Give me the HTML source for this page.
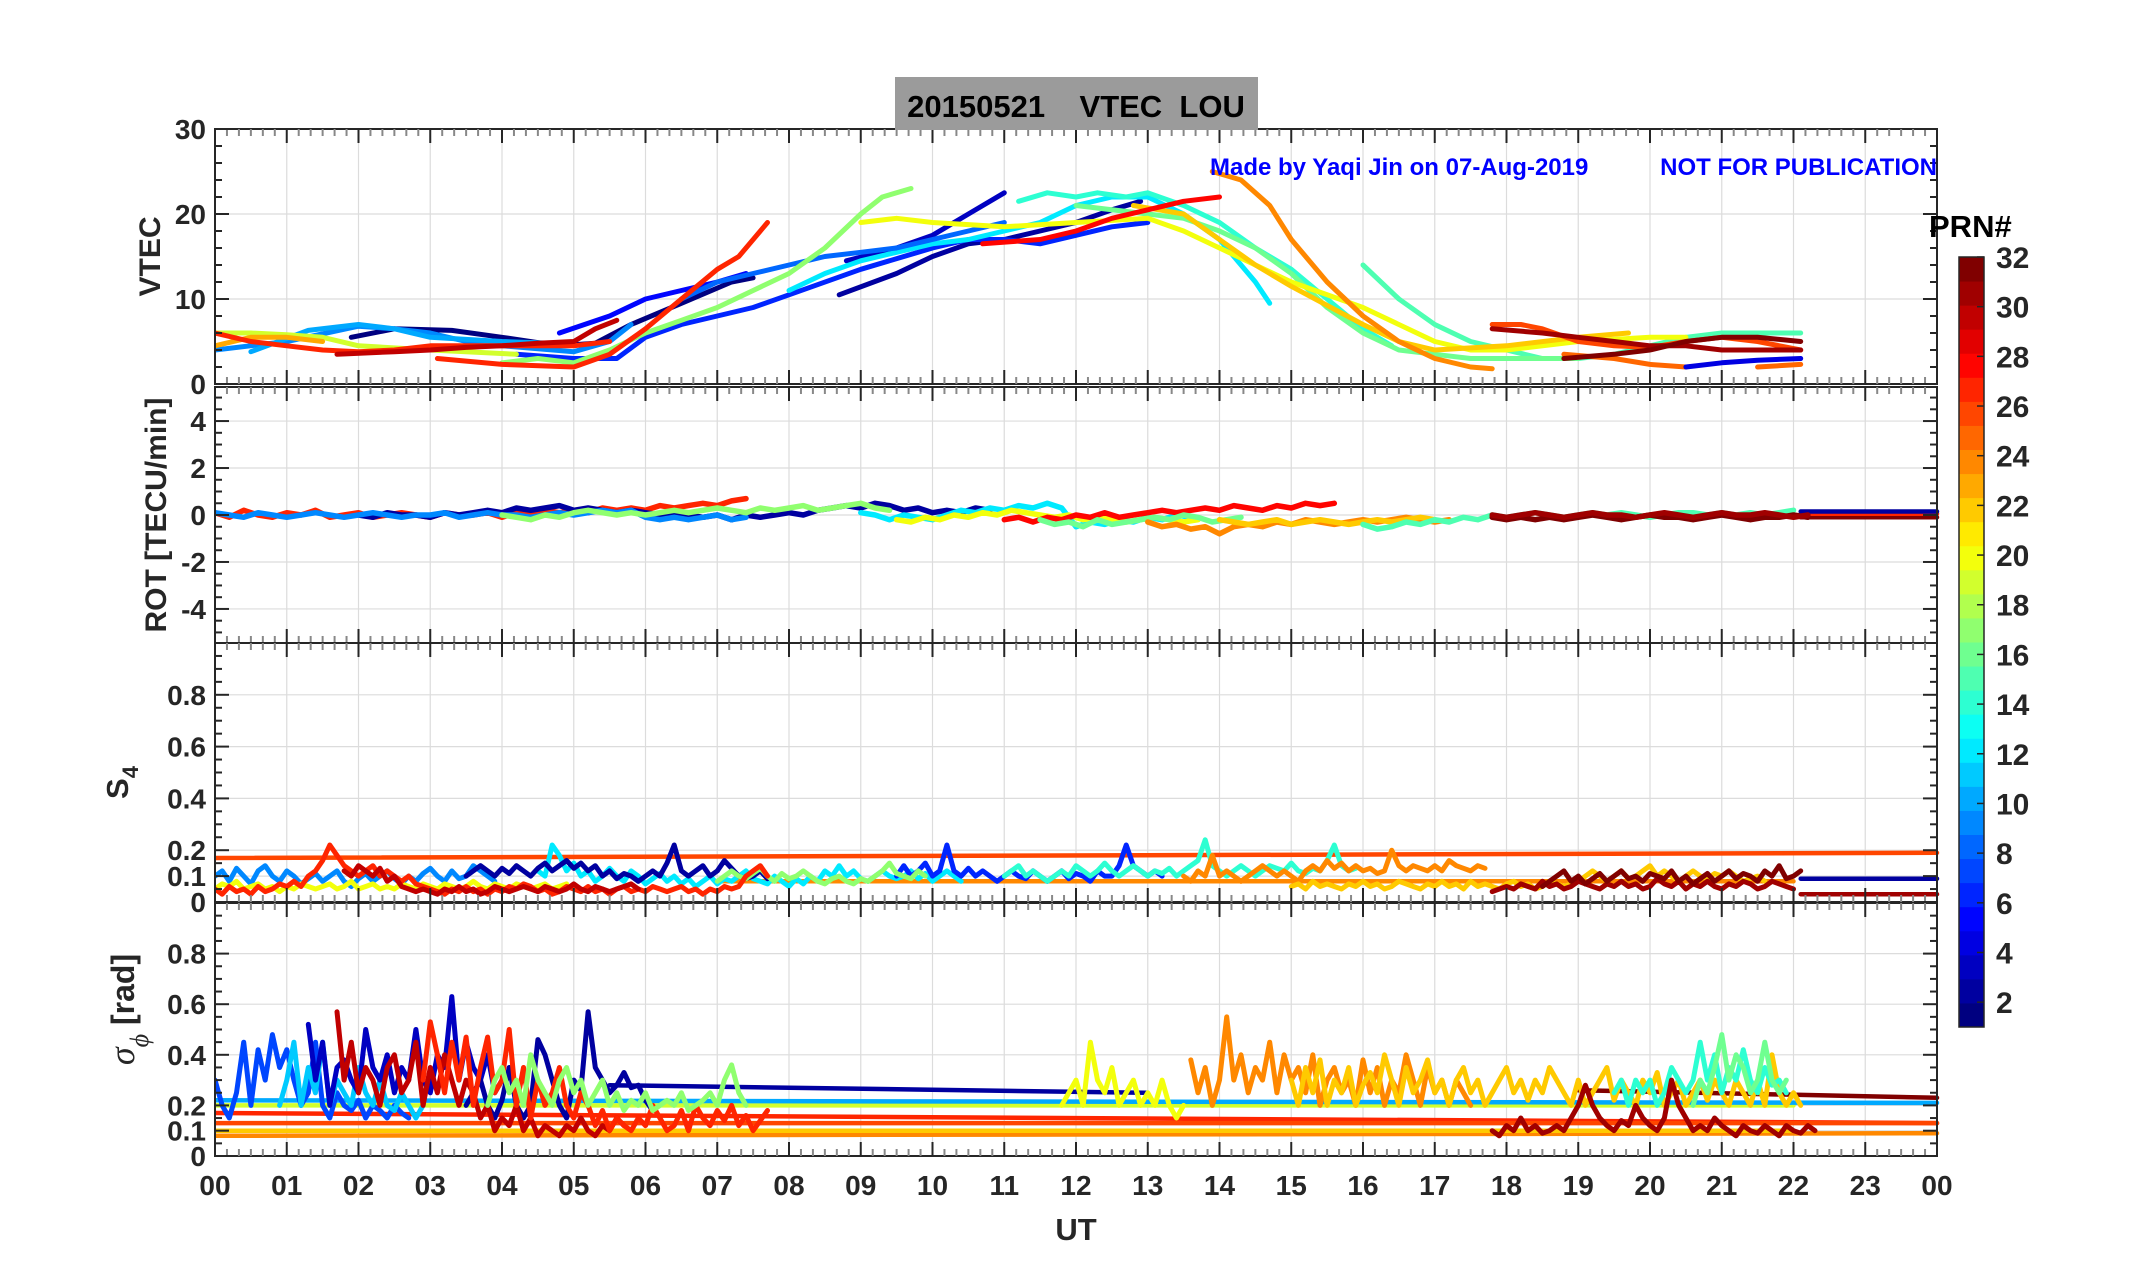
<!DOCTYPE html>
<html><head><meta charset="utf-8">
<style>
html,body{margin:0;padding:0;background:#fff;}
svg{display:block;font-family:"Liberation Sans",sans-serif;font-weight:bold;}
</style></head>
<body>
<svg id="fig" width="2153" height="1286" viewBox="0 0 2153 1286">
<rect x="0" y="0" width="2153" height="1286" fill="#fff"/>
<g id="panels"></g>
<rect x="895" y="77" width="363" height="53" fill="#9b9b9b"/>
<text x="1076" y="117" font-size="31" text-anchor="middle" fill="#000" xml:space="preserve">20150521    VTEC  LOU</text>
<text x="1210" y="175" font-size="24" fill="#0000ff">Made by Yaqi Jin on 07-Aug-2019</text>
<text x="1937" y="175" font-size="24" fill="#0000ff" text-anchor="end">NOT FOR PUBLICATION</text>
<text x="1076" y="1240" font-size="31" text-anchor="middle" fill="#262626">UT</text>
<g id="cbar"></g>
</svg>
<script>
// ---------- data ----------
const hourTicks = ["00","01","02","03","04","05","06","07","08","09","10","11","12","13","14","15","16","17","18","19","20","21","22","23","00"];
const vtecTicks = [0,10,20,30];
const rotTicks = [-4,-2,0,2,4];
const s4Ticks = [0,0.1,0.2,0.4,0.6,0.8];
const sigTicks = [0,0.1,0.2,0.4,0.6,0.8];
const prnTicks = [2,4,6,8,10,12,14,16,18,20,22,24,26,28,30,32];

const vtecPrn = [1,5,3,2,6,9,10,12,8,15,14,17,16,19,20,22,24,25,25,26,23,27,27,28,30,31,32,4];
const vtecHours = [
 [1.9,2.5,3.3,4,4.8,5.3,5.8,6.5,7.2,7.5],
 [4.8,5.5,6,6.5,7,7.4],
 [8.8,9.5,10,10.5,11],
 [8.7,9.5,10,10.5,11,11.5,12,12.5,12.9],
 [4.2,5,5.6,6,6.5,7,7.5,8,9,10,10.5,11,11.5,12,12.5,13],
 [0,1,2,2.5,3,3.5,4,5,5.5,5.8],
 [0.5,1.3,2,2.5,3,4,4.7],
 [8,8.5,9,9.5,10,10.5,11,11.5,12,12.5,13,13.5,14,14.5,14.7],
 [6.5,7,7.5,8,8.5,9,9.5,10,10.5,11],
 [16,16.5,17,17.5,18,18.5,19,19.5,20,20.5,21,21.5,22.1],
 [11.2,11.6,12,12.3,12.7,13,13.5,14,14.5,15,15.5,16,16.4],
 [4,4.5,5,5.5,6,6.5,7,7.5,8,8.5,9,9.3,9.7],
 [12,13,13.5,14,14.5,15,15.5,16,16.5,17,17.5,18,18.5,19],
 [0,0.5,1,1.5,2,3,4.2],
 [9,9.5,10,11,12,13,13.5,14,15,16,17,17.5,18,19,20,20.5],
 [12.8,13.5,14,14.5,15,16,16.5,17,18,19,19.7],
 [13.9,14.3,14.7,15,15.5,16,16.5,17,17.5,17.8],
 [18.8,19.5,20,20.5],
 [21.5,22.1],
 [17.8,18.2,18.5,19,19.5,20,20.5,21,21.5,22.1],
 [0,0.5,1,1.5],
 [0,0.5,1,1.5,2,2.5,3,3.5,4,5,5.5],
 [3.1,4,5,5.5,6,6.5,7,7.3,7.7],
 [10.7,11.5,12,12.5,13,13.5,14],
 [1.7,2.5,3,3.5,4,4.5,5,5.3,5.6],
 [17.8,18.5,19,19.5,20,20.5,21,22.1],
 [18.8,19.5,20,20.5,21,21.5,22.1],
 [20.5,21,21.5,22.1]
];
const vtecValues = [
 [5.5,6.5,6.3,5.5,4.5,4.8,7,9.5,12,12.5],
 [6,8,10,11,12,13],
 [14.5,16,17.5,20,22.5],
 [10.5,13,15,16.5,17,18,19,20.5,21.5],
 [3.5,3,3,5.5,7,8,9,10.5,13.5,16,17,17,16.5,17.5,18.5,19],
 [4,5,6.8,6.5,6,5,4.5,3.8,5,7],
 [3.8,6.3,7,6.5,5.5,5,4.8],
 [11,13,14.5,15.5,16.5,17,18,19,21,22,22,20,17,12,9.5],
 [10,12,13,14,15,15.5,16,17,18,19],
 [14,10,7,5,4,3,3,3.5,4.5,5.5,6,6,6],
 [21.5,22.5,22,22.5,22,22.5,21,19,16,13.5,10,6.5,4.5],
 [2.5,3,2.5,4,6,7.5,9,11,13,16,20,22,23],
 [21,20,19.5,18,16,13,9,6,4,3.5,3,3,3,3],
 [6,6,5.8,5.5,4.5,4,3.5],
 [19,19.5,19,18.5,19,19.5,18,16,12,9,5,4,4,5,5.5,5.5],
 [21,20,17,14,11.5,7,5,4,4.5,5.5,6],
 [25,24,21,17,12,8,5,3,2,1.8],
 [3.5,3,2.3,2],
 [2,2.3],
 [7,7,6.5,5,4.5,4.3,5,5.5,5,4],
 [4.5,5.5,5.5,5],
 [6,5,4.5,4,3.8,4,4.5,4.5,4.5,4.5,5],
 [3,2.3,2,3.5,6.5,10,13.5,15,19],
 [16.5,17,18,19.5,20.5,21.5,22],
 [3.5,3.8,4,4.3,4.5,4.8,5,6.5,7.5],
 [6.5,6,5.5,5,4.5,4.5,4,4],
 [3,3.5,4,5,5.5,5.5,5],
 [2,2.5,2.8,3]
];

const rotPrn = [27,2,9,17,12,20,28,16,24,22,15,32,31];
const rotStart = [0,2,0,4,9,9.5,11,11.5,13,14,16,17.8,17.8];
const rotValues = [
 [0.1,-0.1,0.2,0,-0.1,0.1,0,0.2,-0.1,0,0.1,-0.1,0,0.1,0,-0.1,0.1,0,0,0.1,-0.1,0.1,0,0.2,0.1,0.2,0.1,0.3,0.2,0.3,0.2,0.4,0.3,0.4,0.5,0.4,0.6,0.7],
 [0,-0.1,0.1,0,0,-0.1,0.1,0,0.1,0.2,0.1,0.3,0.2,0.3,0.4,0.2,0.3,0.2,0.1,0.2,0.1,0,0.1,0,-0.1,0,-0.2,0,-0.1,0,0.1,0,0.2,0.3,0.4,0.3,0.5,0.4,0.2,0.3,0.1,0.2,0.1,0.3,0.2],
 [0.1,0,-0.1,0.1,0,-0.1,0,0.1,0,-0.1,0,0.1,0,-0.1,0,0,0.1,-0.1,0,0.1,0,0,-0.1,0,0.1,0,0.1,0.2,0.1,0.2,-0.1,-0.2,-0.1,-0.2,-0.1,0,-0.2,-0.1],
 [0,-0.1,-0.2,0,-0.1,0.1,0.2,0.1,0,0.1,0,0.1,0.2,0.1,0.2,0.3,0.2,0.1,0.3,0.2,0.3,0.4,0.2,0.3,0.4,0.5,0.3,0.2],
 [0.1,0,-0.2,0,-0.1,-0.2,0,0.2,0.1,0.3,0.2,0.4,0.3,0.5,0.3,-0.5,-0.3,-0.4,-0.2,-0.3,-0.1,-0.2,0,-0.1],
 [-0.2,-0.3,-0.1,-0.2,0,-0.1,0.1,0,0.2,0.1,0,-0.1,0,-0.2,-0.1,-0.2,-0.3,-0.2,-0.1,-0.2,-0.3,-0.2],
 [-0.2,-0.1,-0.3,-0.1,-0.2,0,-0.1,0.1,-0.1,0,0.1,0.2,0.1,0.2,0.3,0.2,0.4,0.3,0.2,0.4,0.3,0.5,0.4,0.5],
 [-0.2,-0.4,-0.3,-0.5,-0.2,-0.4,-0.3,-0.2,-0.1,-0.2,0,-0.1,-0.3,-0.2,-0.1],
 [-0.3,-0.5,-0.4,-0.6,-0.5,-0.8,-0.5,-0.4,-0.5,-0.3,-0.4,-0.2,-0.3,-0.4,-0.3,-0.2,-0.3,-0.2,-0.1,-0.2,-0.3,-0.2],
 [-0.2,-0.3,-0.4,-0.3,-0.2,-0.4,-0.3,-0.2,-0.3,-0.4,-0.3,-0.2,-0.3,-0.2,-0.1,-0.2],
 [-0.4,-0.6,-0.5,-0.3,-0.4,-0.2,-0.3,-0.1,-0.2,0,-0.1,0,0.1,0,-0.1,0,0.1,0,0.1,0,-0.1,0,0.1,0.1,0,0.1,0,0.1,0,0.1,0.2],
 [-0.1,-0.2,-0.1,-0.2,-0.1,-0.2,-0.1,0,-0.1,-0.2,-0.1,0,-0.1,-0.1,-0.2,-0.1,0,-0.1,-0.2,-0.1,-0.1,0,-0.1],
 [0,-0.1,0,0.1,0,-0.1,0,0.1,0,0,-0.1,0,0.1,0,-0.1,0,0.1,0,0,0.1,0,-0.1,0]
];
const rotLinePrn = [32,27,2];
const rotLineFrom = [[22.1,-0.1],[22.1,0.05],[22.1,0.15]];
const rotLineTo = [[24,-0.1],[24,0.05],[24,0.15]];

const s4Prn = [9,12,2,6,20,17,14,24,22,27,30,31,32];
const s4Start = [0,4.5,3.5,9.5,0,7,11,13.5,15,0,1.8,17.8,18.5];
const s4Values = [
 [0.1,0.12,0.08,0.13,0.1,0.07,0.12,0.14,0.1,0.08,0.12,0.1,0.07,0.09,0.11,0.08,0.1,0.12,0.08,0.06,0.09,0.11,0.08,0.1,0.12,0.09,0.07,0.1,0.08,0.11,0.13,0.1,0.08,0.12,0.09,0.1,0.14,0.12,0.1,0.08],
 [0.12,0.1,0.22,0.18,0.12,0.15,0.1,0.12,0.08,0.1,0.13,0.1,0.08,0.12,0.1,0.07,0.09,0.11,0.08,0.1,0.07,0.09,0.06,0.08,0.1,0.07,0.09,0.08,0.1,0.12,0.09,0.08,0.07,0.1,0.08,0.06,0.09,0.07,0.1,0.08,0.12,0.1,0.14,0.1,0.12,0.09,0.08,0.1,0.12,0.1,0.09,0.1,0.12,0.09,0.11,0.08,0.1,0.12,0.1,0.08],
 [0.1,0.12,0.14,0.12,0.1,0.13,0.11,0.14,0.12,0.1,0.13,0.15,0.12,0.14,0.16,0.13,0.15,0.12,0.14,0.1,0.12,0.09,0.11,0.1,0.08,0.1,0.12,0.1,0.15,0.22,0.12,0.1,0.12,0.14,0.1,0.12,0.16,0.13,0.1,0.09,0.1,0.12,0.09],
 [0.1,0.14,0.1,0.12,0.15,0.1,0.12,0.22,0.12,0.1,0.13,0.1,0.12,0.1,0.08,0.1,0.12,0.1,0.09,0.12,0.1,0.08,0.1,0.12,0.09,0.11,0.1,0.08,0.12,0.1,0.1,0.14,0.22,0.14,0.12,0.1,0.12,0.1],
 [0.05,0.07,0.06,0.08,0.05,0.06,0.07,0.05,0.06,0.04,0.06,0.05,0.07,0.06,0.05,0.06,0.07,0.05,0.06,0.08,0.05,0.06,0.07,0.05,0.06,0.05,0.07,0.06,0.05,0.07,0.06,0.05,0.07,0.06,0.05,0.06,0.08,0.06,0.05,0.07,0.06,0.05,0.07,0.06,0.05,0.06,0.07,0.05,0.06,0.07],
 [0.08,0.1,0.12,0.1,0.09,0.11,0.13,0.1,0.08,0.11,0.09,0.1,0.12,0.1,0.08,0.07,0.09,0.1,0.08,0.07,0.09,0.08,0.1,0.12,0.15,0.11,0.1,0.09,0.12,0.1],
 [0.1,0.12,0.14,0.1,0.12,0.1,0.08,0.1,0.12,0.1,0.14,0.12,0.1,0.12,0.15,0.12,0.1,0.12,0.14,0.12,0.1,0.12,0.11,0.13,0.1,0.12,0.14,0.16,0.24,0.14,0.12,0.1,0.12,0.14,0.12,0.1,0.12,0.14,0.13,0.12,0.15,0.12,0.11,0.13,0.12,0.16,0.22,0.14,0.12,0.13],
 [0.1,0.08,0.12,0.1,0.18,0.1,0.12,0.1,0.08,0.1,0.12,0.14,0.12,0.1,0.12,0.1,0.08,0.12,0.14,0.12,0.16,0.13,0.15,0.12,0.14,0.12,0.13,0.11,0.12,0.2,0.14,0.12,0.14,0.13,0.12,0.14,0.12,0.16,0.14,0.13,0.12,0.14,0.13],
 [0.06,0.07,0.05,0.08,0.06,0.07,0.06,0.05,0.07,0.06,0.08,0.06,0.07,0.05,0.06,0.08,0.07,0.06,0.05,0.07,0.06,0.08,0.06,0.07,0.05,0.08,0.06,0.07,0.06,0.05,0.07,0.08,0.06,0.07,0.05,0.06,0.08,0.07,0.06,0.07,0.08,0.1,0.12,0.1,0.08,0.1,0.12,0.09,0.1,0.12,0.14,0.1,0.12,0.1,0.08,0.1,0.12,0.1,0.09,0.11,0.1,0.12,0.1,0.08,0.09,0.1,0.08],
 [0.05,0.03,0.06,0.04,0.05,0.03,0.06,0.04,0.05,0.07,0.06,0.08,0.06,0.1,0.12,0.16,0.22,0.18,0.14,0.12,0.1,0.12,0.14,0.1,0.12,0.1,0.08,0.1,0.07,0.06,0.05,0.04,0.03,0.05,0.04,0.06,0.04,0.05,0.03,0.05,0.04,0.06,0.05,0.07,0.06,0.04,0.05,0.03,0.04,0.06,0.05,0.04,0.06,0.04,0.05,0.03,0.05,0.06,0.04,0.05,0.04,0.06,0.05,0.04,0.05,0.06,0.04,0.05,0.03,0.05,0.04,0.06,0.05,0.06,0.1,0.12,0.14,0.1],
 [0.12,0.1,0.14,0.12,0.1,0.13,0.08,0.1,0.06,0.05,0.04,0.05,0.04,0.03,0.05,0.04,0.06,0.04,0.05,0.03,0.04,0.06,0.05,0.04,0.05,0.06,0.05,0.04,0.06,0.05,0.04,0.05,0.07,0.05,0.04,0.06,0.05,0.04,0.05,0.06,0.07,0.05],
 [0.04,0.05,0.06,0.05,0.07,0.06,0.05,0.08,0.06,0.07,0.05,0.06,0.08,0.07,0.06,0.05,0.07,0.06,0.08,0.06,0.07,0.05,0.06,0.09,0.07,0.06,0.08,0.05,0.07,0.06,0.08,0.06,0.05,0.07,0.06,0.08,0.07,0.05,0.06,0.08,0.07,0.06,0.05],
 [0.06,0.08,0.1,0.12,0.08,0.1,0.07,0.09,0.11,0.08,0.1,0.12,0.09,0.1,0.08,0.11,0.1,0.09,0.12,0.08,0.1,0.07,0.09,0.11,0.08,0.1,0.12,0.09,0.11,0.1,0.08,0.12,0.1,0.14,0.09,0.1,0.12]
];
const s4LinePrn = [26,31,2,24];
const s4LineFrom = [[0,0.17],[22.1,0.03],[22.1,0.09],[7,0.08]];
const s4LineTo = [[24,0.19],[24,0.03],[24,0.09],[22,0.08]];

const sigPrn = [7,11,3,2,30,27,17,20,24,22,14,31,16];
const sigStart = [0,0.9,1.3,3.5,1.7,2.9,3.8,11.8,13.6,15,19.5,17.8,20.6];
const sigValues = [
 [0.3,0.2,0.15,0.25,0.45,0.2,0.42,0.3,0.48,0.35,0.42,0.3,0.2,0.25,0.45,0.2,0.15,0.25,0.2,0.18,0.22,0.15,0.2,0.18,0.15,0.2,0.17,0.15],
 [0.2,0.3,0.45,0.2,0.35,0.25,0.45,0.2,0.3,0.25,0.2,0.35,0.25,0.2,0.3,0.2,0.18,0.25,0.2,0.15,0.2],
 [0.52,0.3,0.45,0.2,0.35,0.38,0.3,0.25,0.5,0.35,0.3,0.4,0.25,0.35,0.3,0.5,0.3,0.25,0.4,0.35,0.63,0.3,0.45,0.35,0.3,0.4,0.25,0.3],
 [0.2,0.25,0.3,0.2,0.15,0.22,0.35,0.2,0.15,0.2,0.46,0.4,0.3,0.2,0.15,0.3,0.26,0.57,0.35,0.3,0.25,0.28,0.33,0.27,0.28,0.22,0.18],
 [0.57,0.3,0.45,0.25,0.35,0.3,0.2,0.35,0.4,0.25,0.3,0.45,0.2,0.35,0.25,0.4,0.3,0.2,0.3,0.25,0.15,0.2,0.1,0.15,0.12,0.2,0.1,0.15,0.08,0.12,0.1,0.08,0.12,0.1,0.15,0.1,0.08,0.12,0.1,0.15,0.12],
 [0.3,0.53,0.4,0.25,0.45,0.3,0.47,0.2,0.35,0.47,0.25,0.3,0.5,0.2,0.35,0.15,0.3,0.2,0.25,0.35,0.2,0.15,0.25,0.2,0.12,0.18,0.1,0.15,0.12,0.1,0.15,0.12,0.2,0.15,0.1,0.12,0.18,0.1,0.2,0.15,0.12,0.18,0.14,0.2,0.12,0.16,0.1,0.14,0.18],
 [0.2,0.3,0.35,0.25,0.3,0.2,0.4,0.3,0.25,0.2,0.3,0.35,0.25,0.3,0.2,0.25,0.3,0.2,0.25,0.18,0.22,0.2,0.25,0.18,0.2,0.22,0.2,0.25,0.18,0.2,0.22,0.25,0.2,0.3,0.36,0.25,0.2],
 [0.2,0.25,0.3,0.2,0.45,0.3,0.25,0.35,0.2,0.25,0.3,0.2,0.25,0.2,0.3,0.2,0.15,0.2],
 [0.38,0.25,0.35,0.2,0.3,0.55,0.3,0.4,0.25,0.35,0.3,0.45,0.25,0.4,0.3,0.35,0.25,0.4,0.2,0.3,0.35,0.25,0.3,0.2,0.38,0.25,0.35,0.2,0.3,0.25,0.4,0.3,0.2,0.35,0.25,0.3,0.2,0.3,0.25,0.2],
 [0.3,0.2,0.35,0.25,0.38,0.2,0.3,0.25,0.35,0.2,0.28,0.33,0.25,0.4,0.3,0.2,0.35,0.25,0.3,0.38,0.25,0.3,0.2,0.3,0.35,0.25,0.3,0.2,0.25,0.3,0.35,0.25,0.3,0.22,0.3,0.25,0.35,0.3,0.25,0.2,0.3,0.2,0.25,0.3,0.35,0.22,0.3,0.25,0.2,0.3,0.25,0.33,0.2,0.25,0.3,0.2,0.25,0.3,0.22,0.3,0.25,0.2,0.3,0.25,0.2,0.3,0.2,0.4,0.25,0.2,0.25,0.2],
 [0.25,0.3,0.2,0.3,0.25,0.3,0.2,0.25,0.35,0.3,0.25,0.3,0.45,0.3,0.4,0.25,0.35,0.3,0.42,0.3,0.25,0.35,0.28,0.3,0.25],
 [0.1,0.08,0.12,0.1,0.15,0.1,0.12,0.09,0.1,0.12,0.1,0.15,0.2,0.28,0.2,0.15,0.12,0.1,0.14,0.12,0.2,0.15,0.12,0.1,0.15,0.3,0.2,0.15,0.1,0.12,0.1,0.15,0.12,0.1,0.08,0.12,0.1,0.09,0.12,0.1,0.08,0.12,0.1,0.09,0.12,0.1],
 [0.2,0.3,0.25,0.35,0.48,0.3,0.4,0.35,0.25,0.3,0.45,0.3,0.25,0.3]
];
const sigLinePrn = [19,27,26,24,2,32,10,22];
const sigLineFrom = [[0,0.2],[0,0.17],[0,0.13],[0,0.08],[5.5,0.28],[19,0.26],[0,0.22],[0,0.1]];
const sigLineTo = [[22,0.2],[24,0.13],[24,0.13],[24,0.09],[13,0.25],[24,0.23],[24,0.21],[22,0.1]];

// ---------- layout ----------
const X0 = 215, X1 = 1937;
const panels = [
 {name:"vtec", top:129, bot:384, min:0, max:30, ticks:vtecTicks, minor:2, label:"VTEC", lx:160},
 {name:"rot", top:387, bot:643, min:-5.45, max:5.45, ticks:rotTicks, minor:0.5, label:"ROT [TECU/min]", lx:166},
 {name:"s4", top:643, bot:902, min:0, max:1, ticks:s4Ticks, minor:0.05, label:"S4", lx:128},
 {name:"sigma", top:903, bot:1156, min:0, max:1, ticks:sigTicks, minor:0.05, label:"sigma", lx:134}
];
const NS = "http://www.w3.org/2000/svg";
const root = document.getElementById("panels");
function mk(tag, attrs, parent){ const e = document.createElementNS(NS, tag); for (const k in attrs) e.setAttribute(k, attrs[k]); (parent||root).appendChild(e); return e; }
function xs(h){ return X0 + (h/24)*(X1-X0); }
function jet(p){ const t=(p-1)/31; const c=v=>Math.round(255*Math.max(0,Math.min(1,v)));
  return "rgb("+c(1.5-Math.abs(4*t-3))+","+c(1.5-Math.abs(4*t-2))+","+c(1.5-Math.abs(4*t-1))+")"; }

panels.forEach(P => {
  const ys = v => P.bot - (v-P.min)/(P.max-P.min)*(P.bot-P.top);
  P.ys = ys;
  const g = mk("g", {});
  
  
  P.g = g;
  for (let h=1; h<24; h++){
    const l = mk("line", {x1:xs(h), x2:xs(h), y1:P.top, y2:P.bot, stroke:"#dcdcdc", "stroke-width":1.2}, g);
    
    
  }
  P.ticks.forEach(v => {
    if (v===P.min || v===P.max) return;
    const l = mk("line", {x1:X0, x2:X1, y1:ys(v), y2:ys(v), stroke:"#dcdcdc", "stroke-width":1.2}, g);
    
    
  });
  P.marks = mk("g", {"clip-path":"url(#clip-"+P.name+")"}, g);
  const cp = mk("clipPath", {id:"clip-"+P.name}, g);
  mk("rect", {x:X0, y:P.top, width:X1-X0+4, height:P.bot-P.top}, cp);
});

function poly(P, pts, prn, w, name){
  const d = pts.map(p => xs(p[0]).toFixed(1)+","+P.ys(p[1]).toFixed(1)).join(" ");
  const e = mk("polyline", {points:d, fill:"none", stroke:jet(prn), "stroke-width":w, "stroke-linejoin":"round", "stroke-linecap":"round"}, P.marks);
  
  
}
vtecPrn.forEach((prn,i) => poly(panels[0], vtecHours[i].map((h,j)=>[h, vtecValues[i][j]]), prn, 5, 'vtec-line-prn'+prn));
rotLinePrn.forEach((prn,i)=>poly(panels[1],[rotLineFrom[i],rotLineTo[i]],prn,4.5,'rot-connector-prn'+prn));
rotPrn.forEach((prn,i)=>poly(panels[1], rotValues[i].map((v,j)=>[rotStart[i]+j*0.2, v]), prn, 5.5, 'rot-line-prn'+prn));
s4LinePrn.forEach((prn,i)=>poly(panels[2],[s4LineFrom[i],s4LineTo[i]],prn,4.5,'s4-connector-prn'+prn));
s4Prn.forEach((prn,i)=>poly(panels[2], s4Values[i].map((v,j)=>[s4Start[i]+j*0.1, v]), prn, 5, 's4-line-prn'+prn));
sigLinePrn.forEach((prn,i)=>poly(panels[3],[sigLineFrom[i],sigLineTo[i]],prn,4.5,'sigma-connector-prn'+prn));
sigPrn.forEach((prn,i)=>poly(panels[3], sigValues[i].map((v,j)=>[sigStart[i]+j*0.1, v]), prn, 5, 'sigma-line-prn'+prn));

panels.forEach((P,pi) => {
  const g = P.g, ys = P.ys;
  const box = mk("rect", {x:X0, y:P.top, width:X1-X0, height:P.bot-P.top, fill:"none", stroke:"#262626", "stroke-width":2}, g);
  
  
  for (let k=0; k<=144; k++){
    const h = k/6, x = xs(h), major = (k%6===0);
    const len = major?14:7, col = major?"#262626":"#888";
    mk("line", {x1:x, x2:x, y1:P.top, y2:P.top+len, stroke:col, "stroke-width":2}, g);
    mk("line", {x1:x, x2:x, y1:P.bot, y2:P.bot-len, stroke:col, "stroke-width":2}, g);
  }
  const start = Math.ceil(P.min/P.minor);
  for (let k=start; k*P.minor<=P.max+1e-9; k++){
    const v = k*P.minor, y = ys(v);
    const major = P.ticks.some(t=>Math.abs(t-v)<1e-6);
    const len = major?14:7;
    mk("line", {x1:X0, x2:X0+len, y1:y, y2:y, stroke:"#262626", "stroke-width":2}, g);
    mk("line", {x1:X1, x2:X1-len, y1:y, y2:y, stroke:"#262626", "stroke-width":2}, g);
  }
  P.ticks.forEach(v => {
    const t = mk("text", {x:X0-9, y:ys(v)+10, "font-size":28, "text-anchor":"end", fill:"#262626"}, g);
    t.textContent = String(v);
    
    
  });
  const cy = (P.top+P.bot)/2;
  let yt;
  if (P.name==="s4"){
    yt = mk("text", {transform:"translate("+P.lx+","+(cy+10)+") rotate(-90)", "font-size":31, "text-anchor":"middle", fill:"#262626"}, g);
    yt.innerHTML = 'S<tspan font-size="22" dy="10">4</tspan>';
  } else if (P.name==="sigma"){
    yt = mk("text", {transform:"translate("+P.lx+","+(cy-20)+") rotate(-90)", "font-size":32, "text-anchor":"middle", fill:"#262626"}, g);
    yt.innerHTML = '<tspan font-family="Liberation Serif" font-style="italic" font-weight="normal" font-size="36">σ</tspan><tspan font-family="Liberation Serif" font-style="italic" font-weight="normal" font-size="26" dy="14">ϕ</tspan><tspan dy="-14"> [rad]</tspan>';
  } else {
    yt = mk("text", {transform:"translate("+P.lx+","+cy+") rotate(-90)", "font-size":30, "text-anchor":"middle", fill:"#262626"}, g);
    yt.textContent = P.label;
  }
  
  
  if (pi===3){
    hourTicks.forEach((lab,h) => {
      const t = mk("text", {x:xs(h), y:1195, "font-size":28, "text-anchor":"middle", fill:"#262626"}, g);
      t.textContent = lab;
      
      
    });
  }
});

const cb = document.getElementById("cbar");
const CBX=1959, CBW=25, CBT=257, CBB=1027;
for (let p=1; p<=32; p++){
  const h = (CBB-CBT)/32;
  const r = mk("rect", {x:CBX, y:CBB-p*h, width:CBW, height:h+0.5, fill:jet(p)}, cb);
  
  
}
mk("rect", {x:CBX, y:CBT, width:CBW, height:CBB-CBT, fill:"none", stroke:"#262626", "stroke-width":1.5}, cb);
prnTicks.forEach(v => {
  const y = CBB - (v-1)/31*(CBB-CBT);
  mk("line", {x1:CBX+CBW-7, x2:CBX+CBW, y1:y, y2:y, stroke:"#262626", "stroke-width":1.5}, cb);
  const t = mk("text", {x:1996, y:y+11, "font-size":30, fill:"#262626"}, cb);
  t.textContent = String(v);
  
  
});
const pt = mk("text", {x:1929, y:237, "font-size":31, fill:"#000"}, cb);
pt.textContent = "PRN#";


</script>
</body></html>
